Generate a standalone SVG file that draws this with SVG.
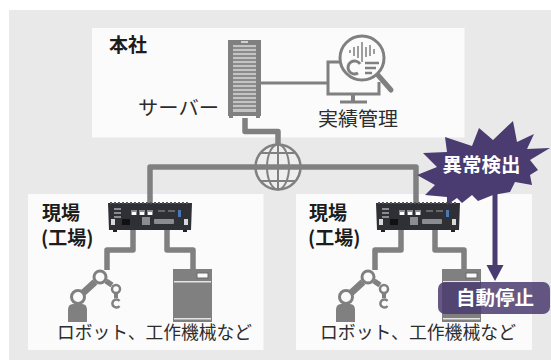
<svg xmlns="http://www.w3.org/2000/svg" xmlns:xlink="http://www.w3.org/1999/xlink" width="551" height="360" viewBox="0 0 551 360">
  <style>
    text { font-family: "Noto Sans CJK JP", "Noto Sans", sans-serif; }
    .panel { fill: #e9e9e9; }
    .card { fill: #fbfbfb; }
    .title { font-size: 19px; font-weight: 700; fill: #1c1c1c; }
    .label { font-size: 19.5px; fill: #2c2c2c; }
    .small { font-size: 18px; fill: #2c2c2c; }
    .white { font-size: 19.5px; font-weight: 700; fill: #ffffff; text-anchor: middle; }
    .wire { fill: none; stroke: #808080; stroke-width: 5.5; stroke-linejoin: round; }
    .thin { fill: none; stroke: #808080; stroke-width: 3; }
    .grey { fill: #808080; }
    .alert { fill: #4a3b70; }
  </style>
  <defs>
    <g id="controller">
      <path d="M0 1 H84 L83 28 H1 Z" fill="#2f3036"/>
      <path d="M2 1 H82" stroke="#55565c" stroke-width="2" stroke-dasharray="2 2" fill="none"/>
      <g fill="#8a8c90">
        <rect x="6" y="6" width="7" height="2"/><rect x="6" y="10" width="7" height="2"/><rect x="6" y="14" width="7" height="2"/>
        <rect x="23" y="8" width="6" height="5"/><rect x="31" y="8" width="6" height="5"/><rect x="39" y="8" width="6" height="5"/>
        <rect x="46" y="17" width="20" height="5" rx="1"/>
        <rect x="34" y="15" width="8" height="8"/>
      </g>
      <g fill="#ffffff">
        <rect x="24" y="10" width="4" height="3"/><rect x="32" y="10" width="4" height="3"/><rect x="40" y="10" width="4" height="3"/>
        <rect x="14" y="17" width="8" height="6" fill="#111"/>
        <rect x="3" y="17" width="4" height="6" fill="#d8d8d8"/>
        <rect x="76" y="17" width="4" height="6" fill="#d8d8d8"/>
      </g>
      <rect x="70" y="8" width="3" height="7" fill="#4a78b0"/>
      <rect x="50" y="8" width="7" height="2" fill="#666"/>
      <rect x="60" y="8" width="7" height="2" fill="#666"/>
      <rect x="5" y="28" width="4" height="2" fill="#222"/>
      <rect x="75" y="28" width="4" height="2" fill="#222"/>
    </g>
    <g id="robot-arm">
      <path d="M68 322 V310 Q68 304 73 304 H82 Q87 304 87 310 V322 Z" class="grey"/>
      <path d="M83 293 L95 282" stroke="#808080" stroke-width="7" fill="none"/>
      <path d="M106 281 L112 285" stroke="#808080" stroke-width="5.500" fill="none"/>
      <circle cx="78" cy="297" r="6.500" fill="#fbfbfb" stroke="#808080" stroke-width="3"/>
      <circle cx="100" cy="277" r="6" fill="#fbfbfb" stroke="#808080" stroke-width="3"/>
      <circle cx="116" cy="289" r="4" fill="#fbfbfb" stroke="#808080" stroke-width="2.500"/>
      <path d="M116 293 V298" stroke="#808080" stroke-width="4" fill="none"/>
      <path d="M119.500 301 A4 4 0 1 0 119.500 306" fill="none" stroke="#808080" stroke-width="2.500"/>
    </g>
    <g id="machine-tool">
      <rect x="173" y="269" width="39" height="53" class="grey"/>
      <rect x="174" y="281" width="37" height="1.500" fill="#e4e4e4"/>
      <rect x="174" y="318" width="37" height="1.500" fill="#e4e4e4"/>
      <rect x="197" y="273" width="11" height="5" fill="#fbfbfb" stroke="#6a6a6a"/>
    </g>
  </defs>

  <rect class="panel" x="9" y="10" width="542" height="350"/>
  <rect class="card" x="92" y="28" width="372.500" height="109.500"/>
  <rect class="card" x="28" y="194" width="235.500" height="156"/>
  <rect class="card" x="296" y="194" width="236" height="156"/>

  <!-- Wiring between server, network, controllers and equipment -->
  <g id="connectors">
    <path class="thin" d="M261 83 H328"/>
    <path class="wire" d="M245 118 V131.500 H278 V145"/>
    <path class="wire" d="M150 203 V167 H416 V203"/>
    <path class="wire" d="M133 230 V250 H107 V270"/>
    <path class="wire" d="M167 230 V250 H193 V269"/>
    <path class="wire" d="M401 230 V250 H375 V270"/>
    <path class="wire" d="M435 230 V250 H464 V269"/>
  </g>

  <g id="hq-label"><text class="title" x="109" y="52">本社</text></g>

  <g id="server">
    <rect x="228" y="40" width="33" height="76" class="grey"/>
    <rect x="229" y="116" width="4" height="2" class="grey"/>
    <rect x="256" y="116" width="4" height="2" class="grey"/>
    <rect x="241" y="41" width="7" height="2" fill="#d0d0d0"/>
    <rect x="233" y="45" width="23" height="67" fill="#c4c4c4"/>
    <path d="M233 48 H256 M233 52 H256 M233 56 H256 M233 60 H256 M233 64 H256 M233 68 H256 M233 72 H256 M233 76 H256 M233 80 H256 M233 84 H256 M233 88 H256 M233 92 H256 M233 96 H256 M233 100 H256 M233 104 H256 M233 108 H256" stroke="#7a7a7a" stroke-width="1.500" fill="none"/>
    <text class="label" x="138" y="115" textLength="81" lengthAdjust="spacingAndGlyphs">サーバー</text>
  </g>

  <g id="results-monitor">
    <path class="thin" d="M340 62 H328 V94 H379 V82"/>
    <path d="M353 94 V101" stroke="#808080" stroke-width="4" fill="none"/>
    <path d="M340 102 H367" stroke="#808080" stroke-width="3" fill="none"/>
    <path d="M377 74 L391 90" stroke="#808080" stroke-width="5" stroke-linecap="round" fill="none"/>
    <circle cx="362" cy="58" r="22" fill="#fbfbfb" stroke="#808080" stroke-width="3"/>
    <path d="M350 50 V53 M354 47 V56 M358 46 V58 M362 42 V62 M366 47 V57 M370 45 V56 M374 49 V54" stroke="#808080" stroke-width="1.500" fill="none"/>
    <path d="M360 64 A6.500 6.500 0 1 0 358 73" fill="none" stroke="#808080" stroke-width="3"/>
    <path d="M365 63 H379 M365 68 H376 M365 73 H372" stroke="#808080" stroke-width="2.500" fill="none"/>
    <text class="label" x="318" y="126" textLength="80" lengthAdjust="spacingAndGlyphs">実績管理</text>
  </g>

  <g id="network">
    <circle cx="278" cy="167" r="22.500" fill="#eeeeee" stroke="#808080" stroke-width="2.500"/>
    <ellipse cx="278" cy="167" rx="11" ry="22.500" fill="none" stroke="#808080" stroke-width="2"/>
    <path d="M278 144 V190 M260 153 H296 M260 181 H296" stroke="#808080" stroke-width="2" fill="none"/>
    <path d="M255 167 H301" stroke="#808080" stroke-width="5.500" fill="none"/>
  </g>

  <g id="site-left">
    <text class="title" x="42" y="220">現場</text>
    <text class="title" x="41" y="245">(工場)</text>
    <use xlink:href="#controller" href="#controller" x="108" y="202"/>
    <use xlink:href="#robot-arm" href="#robot-arm"/>
    <use xlink:href="#machine-tool" href="#machine-tool"/>
    <text class="small" x="57" y="339" textLength="195" lengthAdjust="spacingAndGlyphs">ロボット、工作機械など</text>
  </g>

  <g id="site-right">
    <text class="title" x="309" y="220">現場</text>
    <text class="title" x="308" y="245">(工場)</text>
    <use xlink:href="#controller" href="#controller" x="376" y="202"/>
    <use xlink:href="#robot-arm" href="#robot-arm" x="268"/>
    <use xlink:href="#machine-tool" href="#machine-tool" x="269"/>
    <text class="small" x="320" y="339" textLength="196" lengthAdjust="spacingAndGlyphs">ロボット、工作機械など</text>
  </g>

  <g id="anomaly-alert">
    <path d="M495 190 V266" stroke="#4a3b70" stroke-width="5" fill="none"/>
    <path class="alert" d="M486.500 265 H503.500 L495 281 Z"/>
    <path class="alert" d="M513 121 L517 142 L534 134 L527 149 L550 148 L530 160 L538 170 L530 175 L532 185 L515 182 L510 192 L493 195 L478 201 L472 195 L462 203 L457 198 L447 205 L447 197 L425 195 L435 185 L417 175 L437 167 L423 153 L447 152 L445 137 L472 146 L479 128 L493 140 Z"/>
    <text class="white" x="481.500" y="172">異常検出</text>
  </g>

  <g id="auto-stop">
    <rect x="438" y="282" width="112" height="32" rx="7" fill="#4a3b70" fill-opacity="0.85"/>
    <text class="white" x="495" y="305">自動停止</text>
  </g>
</svg>
